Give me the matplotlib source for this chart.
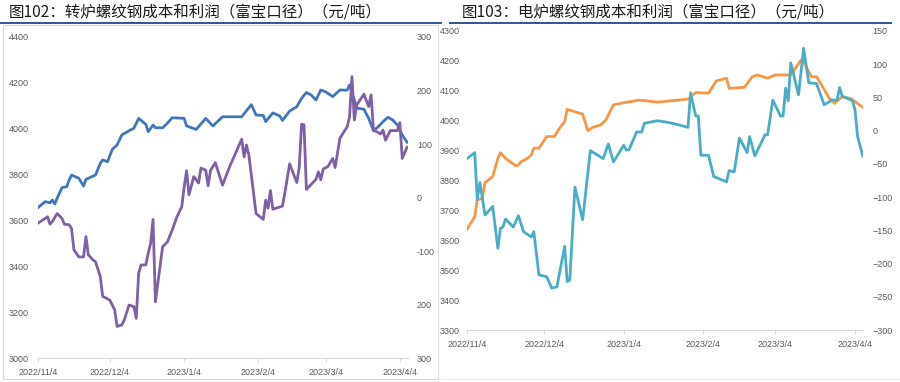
import matplotlib
matplotlib.use('Agg')
import matplotlib.pyplot as plt
import pandas as pd
from matplotlib.patches import Rectangle
from matplotlib.lines import Line2D

# ---------------- data ----------------
title_left = "图102：转炉螺纹钢成本和利润（富宝口径）（元/吨）"
title_right = "图103：电炉螺纹钢成本和利润（富宝口径）（元/吨）"

tick_dates = ['2022-11-04', '2022-12-04', '2023-01-04', '2023-02-04', '2023-03-04', '2023-04-04']
tick_labels = ['2022/11/4', '2022/12/4', '2023/1/4', '2023/2/4', '2023/3/4', '2023/4/4']

bof_cost_dates = ['2022-11-04', '2022-11-07', '2022-11-09', '2022-11-10', '2022-11-11', '2022-11-12', '2022-11-14',
                  '2022-11-16', '2022-11-17', '2022-11-18', '2022-11-21', '2022-11-23', '2022-11-24', '2022-11-28',
                  '2022-11-30', '2022-12-01', '2022-12-03', '2022-12-05', '2022-12-07', '2022-12-09', '2022-12-12',
                  '2022-12-14', '2022-12-16', '2022-12-19', '2022-12-20', '2022-12-22', '2022-12-23', '2022-12-26',
                  '2022-12-28', '2022-12-30', '2023-01-04', '2023-01-05', '2023-01-09', '2023-01-13', '2023-01-16',
                  '2023-01-20', '2023-01-28', '2023-02-01', '2023-02-03', '2023-02-06', '2023-02-07', '2023-02-10',
                  '2023-02-13', '2023-02-14', '2023-02-17', '2023-02-20', '2023-02-22', '2023-02-24', '2023-02-26',
                  '2023-02-28', '2023-03-02', '2023-03-04', '2023-03-07', '2023-03-10', '2023-03-13', '2023-03-14',
                  '2023-03-16', '2023-03-17', '2023-03-20', '2023-03-22', '2023-03-24', '2023-03-26', '2023-03-28',
                  '2023-03-30', '2023-04-01', '2023-04-03', '2023-04-05', '2023-04-07']
bof_cost = [3656, 3682, 3677, 3689, 3672, 3697, 3743, 3747, 3776, 3798, 3784, 3750, 3779, 3798, 3849,
            3864, 3856, 3910, 3929, 3973, 3991, 4002, 4045, 4019, 3987, 4016, 4004, 4004, 4024, 4048,
            4045, 4012, 3997, 4045, 4012, 4052, 4052,
            4105, 4060, 4058, 4031, 4069, 4055, 4036, 4077, 4096, 4133, 4158, 4147, 4125,
            4169, 4161, 4140, 4169, 4168, 4191, 4125, 4090, 4085, 4045, 3991, 4009, 4031, 4050,
            4038, 4016, 3973, 3941]

bof_profit_dates = ['2022-11-04', '2022-11-07', '2022-11-08', '2022-11-09', '2022-11-10', '2022-11-12', '2022-11-14',
                    '2022-11-15', '2022-11-17', '2022-11-18', '2022-11-19', '2022-11-21', '2022-11-23', '2022-11-24',
                    '2022-11-25', '2022-11-27', '2022-11-28', '2022-11-30', '2022-12-01', '2022-12-02', '2022-12-04',
                    '2022-12-06', '2022-12-07', '2022-12-09', '2022-12-10', '2022-12-12', '2022-12-14', '2022-12-15',
                    '2022-12-16', '2022-12-17', '2022-12-19', '2022-12-20', '2022-12-21', '2022-12-22', '2022-12-23',
                    '2022-12-26', '2022-12-28', '2022-12-30', '2023-01-01', '2023-01-03', '2023-01-04', '2023-01-05',
                    '2023-01-06', '2023-01-08', '2023-01-10', '2023-01-11', '2023-01-13', '2023-01-14', '2023-01-15',
                    '2023-01-17', '2023-01-18', '2023-01-20', '2023-01-23', '2023-01-28', '2023-01-29', '2023-01-30',
                    '2023-01-31', '2023-02-03', '2023-02-06', '2023-02-07', '2023-02-08', '2023-02-09', '2023-02-10',
                    '2023-02-14', '2023-02-15', '2023-02-17', '2023-02-20', '2023-02-21', '2023-02-22', '2023-02-23',
                    '2023-02-24', '2023-02-28', '2023-03-01', '2023-03-02', '2023-03-03', '2023-03-05', '2023-03-07',
                    '2023-03-08', '2023-03-10', '2023-03-13', '2023-03-14', '2023-03-15', '2023-03-16', '2023-03-17',
                    '2023-03-20', '2023-03-22', '2023-03-23', '2023-03-24', '2023-03-27', '2023-03-28', '2023-03-29',
                    '2023-03-31', '2023-04-03', '2023-04-04', '2023-04-05', '2023-04-07']
bof_profit = [-48, -39, -36, -50, -45, -30, -39, -50, -51, -58, -98, -111, -111, -73,
              -107, -117, -120, -148, -185, -187, -192, -210, -241, -238, -229, -201, -204, -226,
              -142, -126, -126, -104, -86, -41, -195, -92, -83, -61, -36, -17, 20, 50,
              5, 39, 27, 55, 51, 22, 51, 65, 51, 23, 58, 109, 76, 98,
              79, -30, -41, -5, -20, 13, -22, -16, 8, 63, 28, 56, 137, 136,
              15, 34, 48, 33, 53, 58, 73, 56, 111, 132, 150, 226, 145, 173,
              193, 170, 192, 126, 119, 126, 107, 125, 125, 140, 73, 94]

eaf_cost_dates = ['2022-11-04', '2022-11-07', '2022-11-08', '2022-11-10', '2022-11-11', '2022-11-14', '2022-11-16',
                  '2022-11-17', '2022-11-19', '2022-11-23', '2022-11-24', '2022-11-25', '2022-11-27', '2022-11-29',
                  '2022-11-30', '2022-12-02', '2022-12-05', '2022-12-08', '2022-12-10', '2022-12-12', '2022-12-13',
                  '2022-12-16', '2022-12-19', '2022-12-21', '2022-12-23', '2022-12-26', '2022-12-28', '2022-12-31',
                  '2023-01-04', '2023-01-10', '2023-01-17', '2023-01-29', '2023-02-01', '2023-02-06', '2023-02-09',
                  '2023-02-13', '2023-02-14', '2023-02-20', '2023-02-23', '2023-02-25', '2023-03-01', '2023-03-04',
                  '2023-03-10', '2023-03-14', '2023-03-15', '2023-03-18', '2023-03-20', '2023-03-22', '2023-03-25',
                  '2023-03-27', '2023-03-30', '2023-04-02', '2023-04-04', '2023-04-07']
eaf_cost = [3637, 3679, 3735, 3741, 3793, 3813, 3874, 3893, 3874, 3849, 3852, 3863, 3871, 3885,
            3908, 3908, 3947, 3947, 3975, 3997, 4038, 4030, 4022, 3967, 3978, 3986, 4002, 4053,
            4060, 4069, 4062, 4072, 4094, 4092, 4133, 4142, 4108, 4112, 4147, 4153, 4142, 4153,
            4153, 4203, 4197, 4147, 4147, 4119, 4075, 4058, 4080, 4075, 4064, 4045]

eaf_profit_dates = ['2022-11-04', '2022-11-07', '2022-11-08', '2022-11-09', '2022-11-11', '2022-11-14', '2022-11-16',
                    '2022-11-17', '2022-11-18', '2022-11-19', '2022-11-22', '2022-11-24', '2022-11-26', '2022-11-29',
                    '2022-11-30', '2022-12-01', '2022-12-02', '2022-12-05', '2022-12-07', '2022-12-09', '2022-12-12',
                    '2022-12-13', '2022-12-14', '2022-12-16', '2022-12-19', '2022-12-22', '2022-12-27', '2022-12-29',
                    '2022-12-31', '2023-01-04', '2023-01-05', '2023-01-06', '2023-01-09', '2023-01-11', '2023-01-12',
                    '2023-01-17', '2023-01-22', '2023-01-29', '2023-01-30', '2023-02-01', '2023-02-02', '2023-02-03',
                    '2023-02-06', '2023-02-08', '2023-02-13', '2023-02-14', '2023-02-16', '2023-02-18', '2023-02-21',
                    '2023-02-22', '2023-02-24', '2023-02-28', '2023-03-01', '2023-03-03', '2023-03-06', '2023-03-07',
                    '2023-03-08', '2023-03-09', '2023-03-10', '2023-03-13', '2023-03-15', '2023-03-17', '2023-03-20',
                    '2023-03-23', '2023-03-26', '2023-03-28', '2023-03-29', '2023-03-30', '2023-04-03', '2023-04-04',
                    '2023-04-05', '2023-04-07']
eaf_profit = [-42, -33, -104, -78, -127, -114, -177, -147, -145, -133, -145, -128, -152, -160,
              -152, -185, -217, -220, -237, -235, -174, -227, -225, -85, -134, -30, -42, -20,
              -47, -22, -29, -29, -2, -2, 11, 15, 12, 5, 57, 22, 22, -37,
              -37, -69, -77, -60, -62, -11, -33, -9, -38, -6, -6, 46, 22, 22,
              64, 45, 102, 54, 124, 72, 71, 39, 46, 46, 65, 52, 45, 31,
              -9, -38]

left_ticks_l = [3000, 3200, 3400, 3600, 3800, 4000, 4200, 4400]
left_ticks_r = [-300, -200, -100, 0, 100, 200, 300]
left_ticklabels_r = ['300', '200', '-100', '0', '100', '200', '300']
right_ticks_l = [3300, 3400, 3500, 3600, 3700, 3800, 3900, 4000, 4100, 4200, 4300]
right_ticks_r = [-300, -250, -200, -150, -100, -50, 0, 50, 100, 150]

# ---------------- styling ----------------
W, H = 900, 382
fig = plt.figure(figsize=(9, 3.82), dpi=100)
fig.patch.set_facecolor('white')


def fx(px):
    return px / W


def fy(py):
    return 1 - py / H


TICK_COLOR = '#595959'
AXIS_COLOR = '#D9D9D9'
TICK_FONT = 'Liberation Sans'
TICK_SIZE = 6.5
CJK = ['Noto Sans CJK SC', 'DejaVu Sans']

C_BLUE = '#4175BC'
C_PURPLE = '#7F5FA6'
C_ORANGE = '#F79646'
C_AQUA = '#4BACC6'

start = pd.Timestamp('2022-11-04')
tdates = pd.to_datetime(tick_dates)


def style_axes(ax, ax2, xmax_days, pad_l, pad_r):
    ax.set_xlim(start, start + pd.Timedelta(days=xmax_days))
    for a in (ax, ax2):
        for s in ('top', 'left', 'right'):
            a.spines[s].set_visible(False)
        a.spines['bottom'].set_color(AXIS_COLOR)
        a.spines['bottom'].set_linewidth(0.8)
        a.patch.set_visible(False)
    ax2.spines['bottom'].set_visible(False)
    ax.set_xticks(tdates)
    ax.set_xticklabels(tick_labels)
    ax.tick_params(axis='x', direction='out', length=3, color=AXIS_COLOR, width=0.8,
                   pad=4, labelsize=TICK_SIZE, labelcolor=TICK_COLOR)
    ax.tick_params(axis='y', length=0, pad=pad_l, labelsize=TICK_SIZE, labelcolor=TICK_COLOR)
    ax2.tick_params(axis='y', length=0, pad=pad_r, labelsize=TICK_SIZE, labelcolor=TICK_COLOR)
    for lab in ax.get_xticklabels() + ax.get_yticklabels() + ax2.get_yticklabels():
        lab.set_fontfamily(TICK_FONT)


# ---------------- left chart ----------------
axL = fig.add_axes([fx(38), fy(358), fx(408) - fx(38), fy(37) - fy(358)])
axL2 = axL.twinx()
axL.plot(pd.to_datetime(bof_cost_dates), bof_cost, color=C_BLUE, lw=2.0, solid_joinstyle='round')
axL2.plot(pd.to_datetime(bof_profit_dates), bof_profit, color=C_PURPLE, lw=2.0, solid_joinstyle='round')
axL.set_ylim(3000, 4400)
axL.set_yticks(left_ticks_l)
axL2.set_ylim(-300, 300)
axL2.set_yticks(left_ticks_r)
axL2.set_yticklabels(left_ticklabels_r)
style_axes(axL, axL2, 154.4, 6.5, 6.5)

# ---------------- right chart ----------------
axR = fig.add_axes([fx(467), fy(330), fx(863) - fx(467), fy(31) - fy(330)])
axR2 = axR.twinx()
axR.plot(pd.to_datetime(eaf_cost_dates), eaf_cost, color=C_ORANGE, lw=2.0, solid_joinstyle='round')
axR2.plot(pd.to_datetime(eaf_profit_dates), eaf_profit, color=C_AQUA, lw=2.0, solid_joinstyle='round')
axR.set_ylim(3300, 4300)
axR.set_yticks(right_ticks_l)
axR2.set_ylim(-300, 150)
axR2.set_yticks(right_ticks_r)
style_axes(axR, axR2, 154.1, 5.0, 7.0)

# ---------------- titles, rules, frames ----------------
fig.text(fx(9), fy(12), title_left, fontsize=11.2, color='#1A1A1A', family=CJK, va='center', ha='left')
fig.text(fx(462), fy(12), title_right, fontsize=11.2, color='#1A1A1A', family=CJK, va='center', ha='left')

fig.add_artist(Line2D([fx(0), fx(441)], [fy(22.5), fy(22.5)], color='#2F5597', lw=1.4))
fig.add_artist(Line2D([fx(450), fx(891)], [fy(22.5), fy(22.5)], color='#2F5597', lw=1.4))

fig.add_artist(Rectangle((fx(3), fy(379)), fx(438) - fx(3), fy(25) - fy(379),
                         fill=False, ec=AXIS_COLOR, lw=0.8))
fig.add_artist(Line2D([fx(441), fx(900)], [fy(378.5), fy(378.5)], color='#EEEEEE', lw=0.8))

fig.savefig('out.png', dpi=100, facecolor='white')
